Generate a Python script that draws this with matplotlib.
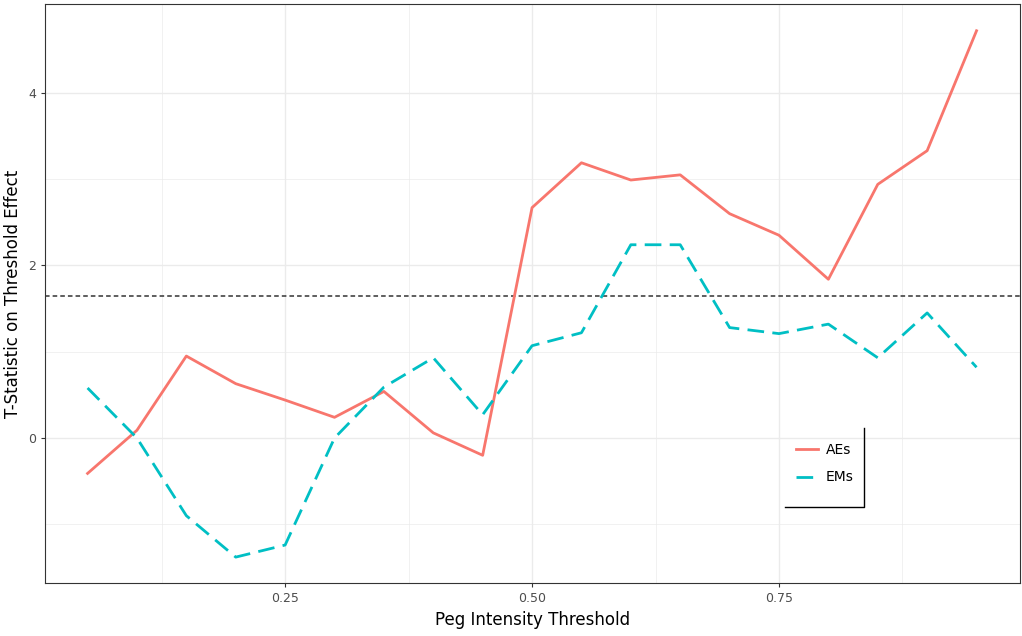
import matplotlib
matplotlib.use("Agg")
from matplotlib import pyplot as plt
import numpy as np

thresholds = [0.05, 0.10, 0.15, 0.20, 0.25, 0.30, 0.35, 0.40, 0.45, 0.50,
              0.55, 0.60, 0.65, 0.70, 0.75, 0.80, 0.85, 0.90, 0.95]
aes = [-0.41, 0.09, 0.95, 0.63, 0.44, 0.24, 0.54, 0.06, -0.20, 2.67,
       3.19, 2.99, 3.05, 2.60, 2.35, 1.84, 2.94, 3.33, 4.72]
ems = [0.58, 0.0, -0.90, -1.38, -1.24, 0.0, 0.59, 0.93, 0.27, 1.07,
       1.22, 2.24, 2.24, 1.28, 1.21, 1.32, 0.93, 1.45, 0.82]
crit = 1.645

fig = plt.figure(figsize=(10.22, 6.36), dpi=100)
ax = fig.add_axes([45/1022, 53/636, 975/1022, 579/636])

ax.set_xticks([0.25, 0.50, 0.75])
ax.set_xticks([0.125, 0.375, 0.625, 0.875], minor=True)
ax.set_yticks([0, 2, 4])
ax.set_yticks([-1, 1, 3], minor=True)
ax.grid(True, which="major", color="#ebebeb", lw=1.0)
ax.grid(True, which="minor", color="#ebebeb", lw=0.5)
ax.set_axisbelow(True)
ax.tick_params(which="minor", length=0)
ax.tick_params(which="major", length=3, color="#333333", labelcolor="#4d4d4d", labelsize=9)

ax.axhline(crit, color="#333333", ls=(0, (3, 2)), lw=1.1)
l1, = ax.plot(thresholds, aes, color="#F8766D", lw=2, label="AEs")
l2, = ax.plot(thresholds, ems, color="#00BFC4", lw=2, ls=(0, (6, 3)), label="EMs")

ax.set_xlim(0.0069, 0.994)
ax.set_ylim(-1.68, 5.03)
ax.set_xlabel("Peg Intensity Threshold", fontsize=12, labelpad=4)
ax.set_ylabel("T-Statistic on Threshold Effect", fontsize=12, labelpad=4)
for s in ax.spines.values():
    s.set_color("#333333")

leg = ax.legend(handles=[l1, l2], loc="upper left", bbox_to_anchor=(738/975, (583-430)/579),
                frameon=False, fontsize=10, handlelength=1.6, handletextpad=0.6, labelspacing=1.0)
# partial box (right and bottom edges) around legend
bx0, by0 = (785-45)/975, (583-507)/579
bx1, by1 = (864-45)/975, (583-428)/579
ax.plot([bx0, bx1, bx1], [by0, by0, by1], transform=ax.transAxes, color="black", lw=1, clip_on=False)

fig.savefig("out.png", dpi=100)
